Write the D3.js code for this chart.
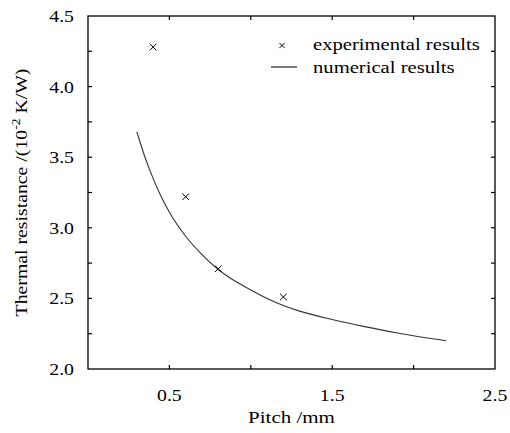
<!DOCTYPE html>
<html>
<head>
<meta charset="utf-8">
<script src="https://cdn.jsdelivr.net/npm/d3@7"></script>
<style>
  body { margin: 0; background: #fff; }
  text { font-family: "Liberation Serif", "Times New Roman", serif; fill: #000; }
</style>
</head>
<body>
<div id="chart"></div>
<script>
'use strict';

// experimental results
var expPitch = [0.4, 0.6, 0.8, 1.2];
var expValue = [4.28, 3.22, 2.71, 2.51];

// numerical results
var numPitch = [0.3, 0.35, 0.4, 0.45, 0.5, 0.6, 0.7, 0.8, 0.9, 1.0, 1.1, 1.2, 1.3, 1.5, 1.7, 1.9, 2.2];
var numValue = [3.68, 3.50, 3.35, 3.22, 3.11, 2.94, 2.81, 2.705, 2.625, 2.56, 2.50, 2.45, 2.41, 2.35, 2.30, 2.255, 2.20];

var xTicks = [0.5, 1.0, 1.5, 2.0];
var xLabels = [0.5, 1.5, 2.5];
var yTicks = [2.25, 2.5, 2.75, 3.0, 3.25, 3.5, 3.75, 4.0, 4.25];
var yLabels = [2.0, 2.5, 3.0, 3.5, 4.0, 4.5];

var W = 510, H = 433;
var m = {left: 88, right: 15, top: 16, bottom: 64};

var svg = d3.select('#chart').append('svg')
  .attr('width', W)
  .attr('height', H);

var x = d3.scaleLinear().domain([0, 2.5]).range([m.left, W - m.right]);
var y = d3.scaleLinear().domain([2.0, 4.5]).range([H - m.bottom, m.top]);

// the font in the figure is wider than Times, so stretch it along the text
function label(g, tx, ty, str, anchor, sx, rot) {
  var t = g.append('text')
    .attr('transform', 'translate(' + tx + ',' + ty + ')' + (rot ? 'rotate(' + rot + ')' : '') + 'scale(' + sx + ',1)')
    .attr('text-anchor', anchor)
    .text(str);
  return t;
}

// frame
svg.append('rect')
  .attr('x', x(0)).attr('y', y(4.5))
  .attr('width', x(2.5) - x(0)).attr('height', y(2.0) - y(4.5))
  .attr('fill', 'none').attr('stroke', '#000').attr('stroke-width', 1.3);

// inward ticks, all four sides
var tk = 4;
var ticks = svg.append('g').attr('stroke', '#000').attr('stroke-width', 1.2);
xTicks.forEach(function(v) {
  ticks.append('line').attr('x1', x(v)).attr('x2', x(v)).attr('y1', y(2.0)).attr('y2', y(2.0) - tk);
  ticks.append('line').attr('x1', x(v)).attr('x2', x(v)).attr('y1', y(4.5)).attr('y2', y(4.5) + tk);
});
yTicks.forEach(function(v) {
  ticks.append('line').attr('x1', x(0)).attr('x2', x(0) + tk).attr('y1', y(v)).attr('y2', y(v));
  ticks.append('line').attr('x1', x(2.5)).attr('x2', x(2.5) - tk).attr('y1', y(v)).attr('y2', y(v));
});

// tick labels
var tl = svg.append('g').style('font-size', '16.5px');
xLabels.forEach(function(v) {
  label(tl, x(v), y(2.0) + 32, d3.format('.1f')(v), 'middle', 1.2);
});
yLabels.forEach(function(v) {
  label(tl, x(0) - 14, y(v) + 6, d3.format('.1f')(v), 'end', 1.2);
});

// axis titles
var at = svg.append('g').style('font-size', '17.5px');
label(at, (x(0) + x(2.5)) / 2, H - 10, 'Pitch /mm', 'middle', 1.2);
var yt = label(at, 27, (y(2.0) + y(4.5)) / 2, '', 'middle', 1.13, -90);
yt.append('tspan').text('Thermal resistance /(10');
yt.append('tspan').attr('dy', -7).style('font-size', '12px').text('-2');
yt.append('tspan').attr('dy', 7).text(' K/W)');

// numerical curve
var line = d3.line()
  .x(function(d) { return x(d[0]); })
  .y(function(d) { return y(d[1]); })
  .curve(d3.curveMonotoneX);
svg.append('path')
  .datum(d3.zip(numPitch, numValue))
  .attr('d', line)
  .attr('fill', 'none')
  .attr('stroke', '#333')
  .attr('stroke-width', 1.1);

// x markers
function cross(g, cx, cy, s) {
  g.append('path')
    .attr('d', 'M' + (cx - s) + ',' + (cy - s) + 'L' + (cx + s) + ',' + (cy + s) +
               'M' + (cx - s) + ',' + (cy + s) + 'L' + (cx + s) + ',' + (cy - s))
    .attr('stroke', '#000')
    .attr('stroke-width', 1)
    .attr('fill', 'none');
}
var pts = svg.append('g');
expPitch.forEach(function(p, i) {
  cross(pts, x(p), y(expValue[i]), 3.3);
});

// legend
var lg = svg.append('g').style('font-size', '17.5px');
cross(lg, 282, 45.5, 2.6);
label(lg, 313, 50, 'experimental results', 'start', 1.18);
lg.append('line')
  .attr('x1', 271).attr('x2', 297).attr('y1', 67).attr('y2', 67)
  .attr('stroke', '#333').attr('stroke-width', 1.3);
label(lg, 313, 73, 'numerical results', 'start', 1.18);
</script>
</body>
</html>
